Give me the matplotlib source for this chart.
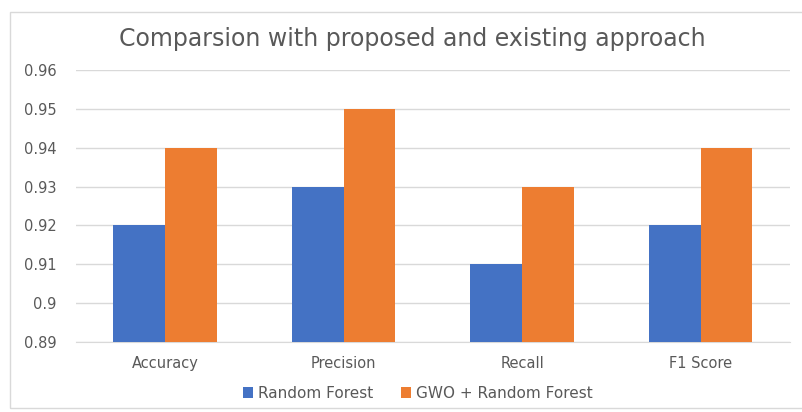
import numpy as np
import matplotlib.pyplot as plt
from matplotlib.patches import Rectangle

# chart data
categories = ["Accuracy", "Precision", "Recall", "F1 Score"]
random_forest = [0.92, 0.93, 0.91, 0.92]
gwo_random_forest = [0.94, 0.95, 0.93, 0.94]
yticks = [0.89, 0.90, 0.91, 0.92, 0.93, 0.94, 0.95, 0.96]
ytick_labels = ["0.89", "0.9", "0.91", "0.92", "0.93", "0.94", "0.95", "0.96"]

blue = "#4472C4"
orange = "#ED7D31"
grey = "#595959"

fig = plt.figure(figsize=(8.03, 4.12), dpi=100)
ax = fig.add_axes([0.0946, 0.170, 0.889, 0.660])

# outer chart frame
fig.patches.append(Rectangle((0.012, 0.01), 0.99, 0.962, transform=fig.transFigure,
                             fill=False, edgecolor="#d9d9d9", linewidth=1.0))

x = np.arange(len(categories))
w = 0.29
ax.bar(x - w / 2, random_forest, w, color=blue, label="Random Forest", zorder=3)
ax.bar(x + w / 2, gwo_random_forest, w, color=orange, label="GWO + Random Forest", zorder=3)

ax.set_xlim(-0.5, len(categories) - 0.5)
ax.set_ylim(0.89, 0.96)
ax.set_yticks(yticks)
ax.set_yticklabels(ytick_labels)
ax.set_xticks(x)
ax.set_xticklabels(categories)

ax.grid(axis="y", color="#d9d9d9", linewidth=1.0, zorder=0)
for s in ["top", "right", "left"]:
    ax.spines[s].set_visible(False)
ax.spines["bottom"].set_color("#d9d9d9")
ax.tick_params(axis="both", length=0, colors=grey, labelsize=10.5)
ax.tick_params(axis="y", pad=14)
ax.tick_params(axis="x", pad=10)

fig.text(0.513, 0.905, "Comparsion with proposed and existing approach",
         ha="center", va="center", fontsize=17, color=grey)

fig.legend(loc="center", bbox_to_anchor=(0.52, 0.046), ncol=2, frameon=False,
           fontsize=11, labelcolor=grey, handlelength=0.7, handleheight=0.7,
           handletextpad=0.3, columnspacing=1.8)

plt.savefig("out.png", dpi=100)
